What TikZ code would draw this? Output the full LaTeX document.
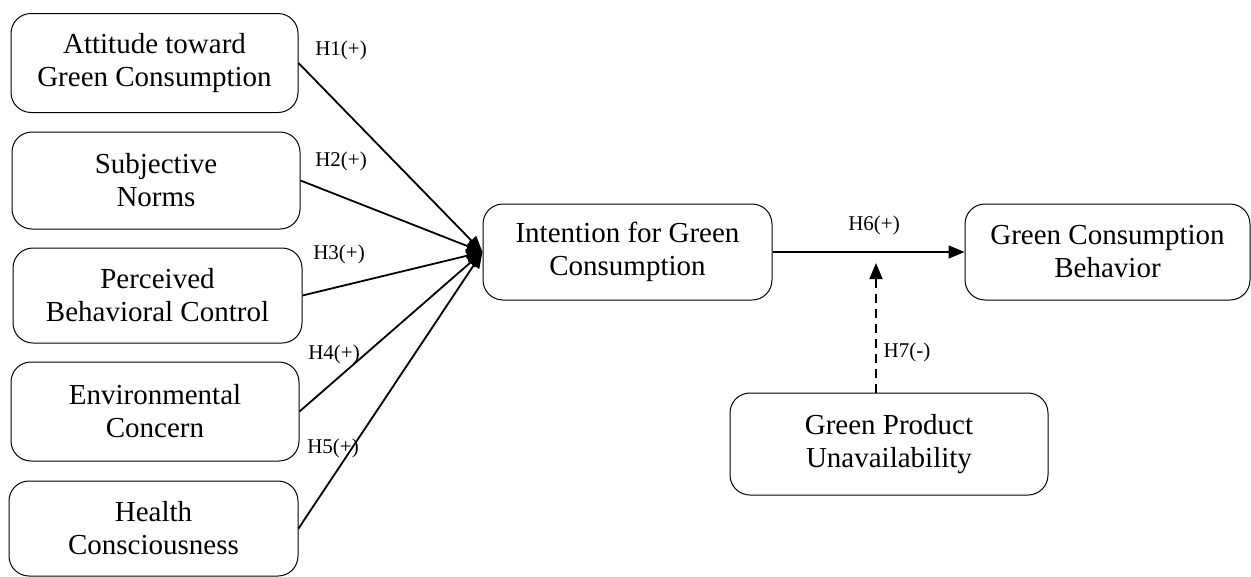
\documentclass[tikz,border=0pt]{standalone}
\usepackage{fontspec}
\setmainfont{Liberation Serif}
\usetikzlibrary{arrows.meta}
\begin{document}
\begin{tikzpicture}[x=1pt,y=-1pt,
  box/.style={draw, line width=1pt, rounded corners=20pt, align=center, inner sep=0pt,
    font=\fontsize{29}{33}\selectfont},
  link/.style={line width=1.8pt, -{Triangle[length=16pt,width=13pt]}},
  hyp/.style={font=\fontsize{21}{24}\selectfont, inner sep=0pt}]
\useasboundingbox (0,0) rectangle (1251,576);
\node[box, minimum width=287pt, minimum height=99pt] (a1) at (154.5,63) {Attitude toward\\Green Consumption};
\node[box, minimum width=288pt, minimum height=97pt] (a2) at (156,180.5) {Subjective\\Norms};
\node[box, minimum width=289pt, minimum height=95pt] (a3) at (157.5,295.5) {Perceived\\Behavioral Control};
\node[box, minimum width=288pt, minimum height=99pt] (a4) at (155,411.5) {Environmental\\Concern};
\node[box, minimum width=289pt, minimum height=95pt] (a5) at (153.5,528.5) {Health\\Consciousness};
\node[box, minimum width=289pt, minimum height=96pt] (int) at (627.5,252) {Intention for Green\\Consumption};
\node[box, minimum width=285pt, minimum height=96pt] (beh) at (1107.5,252) {Green Consumption\\Behavior};
\node[box, minimum width=318pt, minimum height=102pt] (una) at (889,444) {Green Product\\Unavailability};
\foreach \i in {1,...,5} \draw[link] (a\i.east) -- (int.west);
\draw[link] (int.east) -- (beh.west);
\coordinate (m) at (876,263);
\draw[line width=1.8pt, dash pattern=on 9pt off 6pt, -{Triangle[length=16pt,width=13pt]}] (una.north -| m) -- (m);
\node[hyp] (h1) at (341,50) {H1(+)};
\node[hyp] (h2) at (341,161) {H2(+)};
\node[hyp] (h3) at (339,254) {H3(+)};
\node[hyp] (h4) at (334,354) {H4(+)};
\node[hyp] (h5) at (333,448) {H5(+)};
\node[hyp] (h6) at (874,225) {H6(+)};
\node[hyp] (h7) at (907,352) {H7(-)};
\end{tikzpicture}
\end{document}
